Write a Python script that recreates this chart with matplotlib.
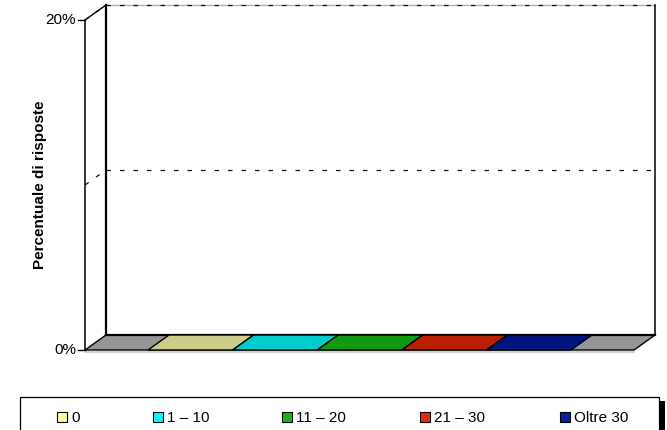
import matplotlib
matplotlib.use("Agg")
import matplotlib.pyplot as plt
from matplotlib.patches import Polygon, Rectangle

# ---------------- data ----------------
categories = ["0", "1 – 10", "11 – 20", "21 – 30", "Oltre 30"]
values = [0.0, 0.0, 0.0, 0.0, 0.0]          # share of responses
legend_colors = ["#FFFF99", "#00FFFF", "#19B219", "#E8280A", "#0A1E9E"]
top_colors = ["#CCCC8A", "#00CCCC", "#129912", "#B82000", "#00147F"]
y_ticks = [0.0, 0.2]
y_tick_labels = ["0%", "20%"]
y_grid = [0.1, 0.2]
y_max = 0.2
y_label = "Percentuale di risposte"

plt.rcParams["font.family"] = ["Liberation Sans", "DejaVu Sans"]

W, H = 667, 430
fig = plt.figure(figsize=(W / 100, H / 100), dpi=100)
ax = fig.add_axes([0, 0, 1, 1])
ax.set_xlim(0, W)
ax.set_ylim(H, 0)
ax.axis("off")

# ---------------- layout (pixels) ----------------
X0, X1 = 85, 634          # front floor edge
Y0, YT = 350, 20          # front plane y of 0 and of y_max
DX, DY = 21, -15          # depth offset
GAP = 63
SLOT = (X1 - X0 - 2 * GAP) / len(categories)
DASH = (0, (3.6, 7.2))


def py(v):
    return Y0 - (Y0 - YT) * v / y_max


# walls
ax.add_patch(Polygon([(X0, Y0), (X0, YT), (X0 + DX, YT + DY), (X0 + DX, Y0 + DY)],
                     closed=True, fc="white", ec="none", zorder=1))
ax.add_patch(Rectangle((X0 + DX, YT + DY), X1 - X0, Y0 - YT, fc="white", ec="none", zorder=1))

# gridlines
for g in y_grid:
    yg = py(g)
    if g == y_max:
        ax.plot([X0 + DX, X1 + DX], [yg + DY, yg + DY], color="#B0B0B0", lw=1.0, zorder=2)
    ax.plot([X0, X0 + DX], [yg, yg + DY], color="#111111", lw=0.9,
            linestyle=DASH, zorder=3)
    ax.plot([X0 + DX, X1 + DX], [yg + DY, yg + DY], color="#111111", lw=0.9,
            linestyle=DASH, zorder=3)

# wall edges
ax.plot([X0, X0], [Y0, YT], color="black", lw=1.1, zorder=4)
ax.plot([X0, X0 + DX], [YT, YT + DY], color="black", lw=1.0, zorder=4)
ax.plot([X0 + DX, X0 + DX], [Y0 + DY, YT + DY], color="black", lw=1.6, zorder=4)
ax.plot([X1 + DX, X1 + DX], [Y0 + DY, YT + DY], color="black", lw=1.1, zorder=4)

# floor
ax.plot([X0, X1], [Y0 + 1.6, Y0 + 1.6], color="#C8C8C8", lw=1.2, zorder=4)
ax.add_patch(Polygon([(X0, Y0), (X1, Y0), (X1 + DX, Y0 + DY), (X0 + DX, Y0 + DY)],
                     closed=True, fc="#969696", ec="black", lw=1.0, zorder=5))
ax.plot([X0 + DX, X1 + DX], [Y0 + DY, Y0 + DY], color="black", lw=1.6, zorder=6)

# bars
for i, (v, fcol, tcol) in enumerate(zip(values, legend_colors, top_colors)):
    xl = X0 + GAP + i * SLOT
    xr = xl + SLOT
    yv = py(v)
    if v > 0:
        ax.add_patch(Rectangle((xl, yv), SLOT, Y0 - yv, fc=fcol, ec="black", lw=1.0, zorder=7))
        ax.add_patch(Polygon([(xr, Y0), (xr, yv), (xr + DX, yv + DY), (xr + DX, Y0 + DY)],
                             closed=True, fc=tcol, ec="black", lw=1.0, zorder=7))
    ax.add_patch(Polygon([(xl, yv), (xr, yv), (xr + DX, yv + DY), (xl + DX, yv + DY)],
                         closed=True, fc=tcol, ec="black", lw=1.0, zorder=8))

# y ticks and labels
for t, lab in zip(y_ticks, y_tick_labels):
    yt = py(t)
    ax.plot([X0 - 7, X0], [yt, yt], color="black", lw=1.0, zorder=4)
    ax.text(X0 - 9, yt, lab, ha="right", va="center", fontsize=11, zorder=9)

ax.text(40, (Y0 + YT) / 2, y_label, rotation=90, ha="center", va="center",
        fontsize=11, fontweight="bold")

# legend
LX, LY, LR = 20, 397, 659
ax.add_patch(Rectangle((LX, LY), LR - LX, 40, fc="white", ec="black", lw=0.9, zorder=9))
ax.add_patch(Rectangle((LR + 1, LY + 4), 5, 40, fc="black", ec="none", zorder=9))
legend_x = [57, 153, 282, 420, 560]
for x, lab, col in zip(legend_x, categories, legend_colors):
    ax.add_patch(Rectangle((x, 412), 10, 10, fc=col, ec="black", lw=0.8, zorder=10))
    ax.text(x + 14, 417.5, lab, ha="left", va="center", fontsize=11, zorder=10)

fig.savefig("out.png", dpi=100)
